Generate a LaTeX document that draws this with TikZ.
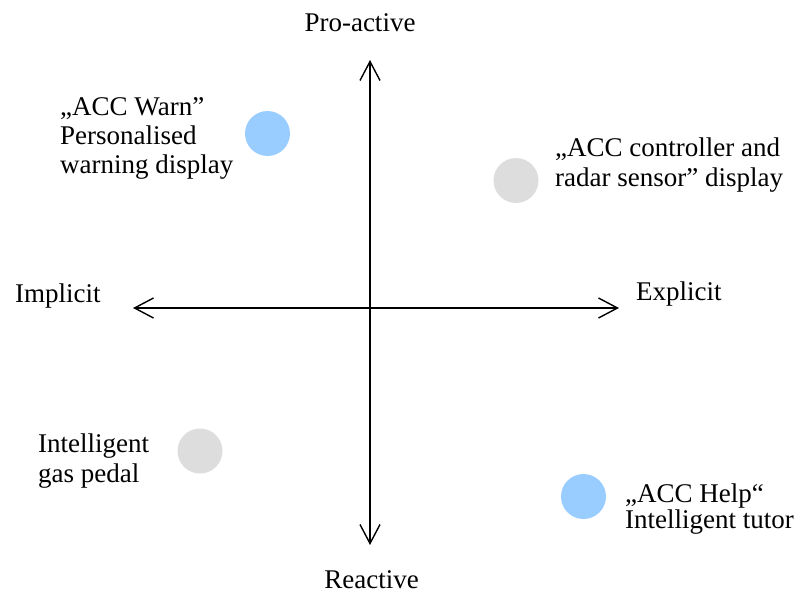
\documentclass[tikz,border=0pt]{standalone}
\usepackage{fontspec}
\setmainfont{Liberation Serif}
\usetikzlibrary{arrows.meta}
\definecolor{dotblue}{HTML}{99CCFF}
\definecolor{dotgray}{HTML}{DDDDDD}
\tikzset{
  lbl/.style={inner sep=0pt, font=\fontsize{27}{30}\selectfont, align=left},
  dot/.style={circle, inner sep=0pt, minimum size=45pt, draw=none},
  axis/.style={line width=1.4pt, {Straight Barb[length=19pt,width=20pt,line width=1.4pt]}-{Straight Barb[length=19pt,width=20pt,line width=1.4pt]}}
}
\begin{document}
\begin{tikzpicture}[x=1pt,y=-1pt]
\useasboundingbox (0,0) rectangle (799,594);
% axes
\coordinate (top) at (370,60);
\coordinate (bottom) at (370,545);
\coordinate (left) at (133,308);
\coordinate (right) at (619,308);
\draw[axis] (top) -- (bottom);
\draw[axis] (left) -- (right);
% axis labels
\node[lbl, anchor=base] (pro) at (360,31) {Pro-active};
\node[lbl, anchor=base] (rea) at (371.5,588) {Reactive};
\node[lbl, anchor=base west] (imp) at (15,302) {Implicit};
\node[lbl, anchor=base west] (exp) at (636,300) {Explicit};
% dots
\node[dot, fill=dotblue] (warndot) at (267.5,133.5) {};
\node[dot, fill=dotgray] (ctrldot) at (516,180.5) {};
\node[dot, fill=dotgray] (gasdot) at (200,451) {};
\node[dot, fill=dotblue] (helpdot) at (583.5,496.5) {};
% item labels (anchor = baseline of last line)
\node[lbl, anchor=base west, font=\fontsize{27}{29}\selectfont] (warn) at (60,173) {„ACC Warn”\\Personalised\\warning display};
\node[lbl, anchor=base west] (ctrl) at (555,186) {„ACC controller and\\radar sensor” display};
\node[lbl, anchor=base west] (gas) at (38,482) {Intelligent\\gas pedal};
\node[lbl, anchor=base west, font=\fontsize{27}{26}\selectfont] (help) at (625,528) {„ACC Help“\\Intelligent tutor};
\end{tikzpicture}
\end{document}
